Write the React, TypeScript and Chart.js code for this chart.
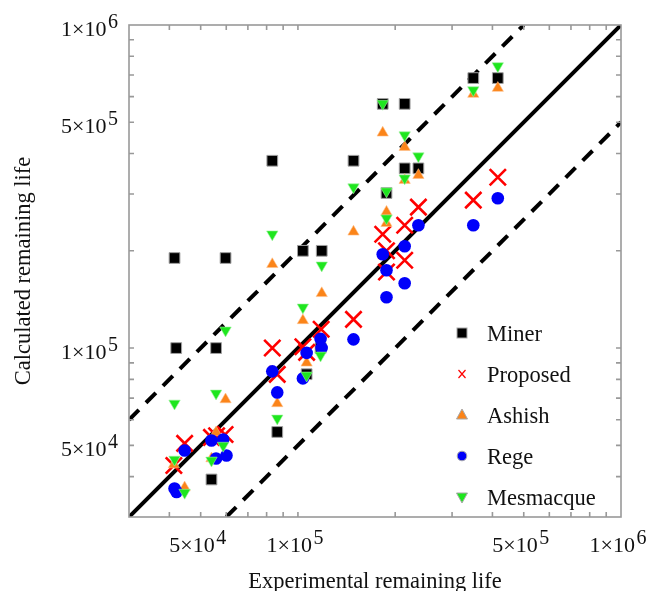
import React, { useEffect, useRef } from 'react';
import { Chart, registerables } from 'chart.js';

Chart.register(...registerables);

const axisMin = 30000;
const axisMax = 1000000;

const seriesNames = ['Miner', 'Proposed', 'Ashish', 'Rege', 'Mesmacque'];
const xTitle = 'Experimental remaining life';
const yTitle = 'Calculated remaining life';

const minerX = [41500, 42000, 54000, 55800, 59700, 83300, 86300, 103600, 118500, 106400, 117500, 148600, 183000, 214000, 188000, 214000, 236000, 349000, 415600];
const minerY = [190000, 100000, 39200, 100000, 190000, 380000, 55000, 200000, 200000, 83000, 100000, 380000, 570000, 570000, 302000, 360000, 360000, 685000, 685000];

const proposedX = [41300, 44600, 54000, 59500, 56000, 83300, 86300, 103600, 106400, 118000, 148600, 183000, 188000, 188000, 214000, 214000, 236000, 349000, 415600];
const proposedY = [43300, 50700, 52900, 54000, 53500, 100000, 82900, 101000, 97000, 114300, 122700, 225000, 200000, 172000, 240000, 187000, 273000, 287000, 338000];

const ashishX = [41300, 44600, 54000, 55800, 59700, 83300, 86300, 103600, 106400, 118500, 148600, 183000, 214000, 236000, 214000, 188000, 188000, 349000, 415600];
const ashishY = [43600, 37000, 45500, 54800, 69300, 181700, 67400, 121800, 90000, 147700, 229000, 463800, 418700, 342900, 330900, 263900, 243400, 611100, 637800];

const regeX = [41500, 42100, 44600, 54000, 58700, 55800, 60100, 83300, 86300, 103600, 106400, 117500, 118400, 148600, 183000, 188000, 188000, 214000, 214000, 236000, 349000, 415600];
const regeY = [36750, 35840, 48190, 51760, 52130, 45500, 46500, 84700, 72900, 80570, 96630, 106800, 100000, 106400, 195200, 174100, 143600, 206700, 158700, 240000, 240000, 290900];

const mesmacqueX = [41500, 41500, 44600, 54000, 55800, 59700, 58700, 83300, 86300, 103600, 106400, 118500, 117500, 148600, 183000, 214000, 236000, 188000, 214000, 188000, 349000, 415600];
const mesmacqueY = [67400, 45200, 35700, 44900, 72400, 113500, 49900, 225100, 60600, 133700, 82300, 180400, 94900, 314800, 571000, 456200, 392700, 305900, 335600, 252300, 628800, 746400];

const refSolidX = [30000, 1000000];
const refSolidY = [30000, 1000000];
const refUpperX = [30000, 500000];
const refUpperY = [60000, 1000000];
const refLowerX = [60000, 1000000];
const refLowerY = [30000, 500000];

const tickMarks = [40000, 50000, 60000, 70000, 80000, 90000, 100000, 200000, 300000, 400000, 500000, 600000, 700000, 800000, 900000];
const labelValues = [50000, 100000, 500000, 1000000];
const labelMantissa = ['5', '1', '5', '1'];
const labelExponent = ['4', '5', '5', '6'];

const ORANGE = '#fb8419';
const GREEN = '#1ee61e';
const BLUE = '#0000fa';
const RED = '#ff0000';
const FONT = '"Liberation Serif", "Times New Roman", serif';

const zip = (xs: number[], ys: number[]) => xs.map((x, i) => ({ x, y: ys[i] }));

function drawSci(ctx: CanvasRenderingContext2D, mant: string, exp: string, x: number, baseY: number, align: 'right' | 'center') {
  const baseFont = `22px ${FONT}`;
  const supFont = `20px ${FONT}`;
  const baseText = `${mant}\u00d710`;
  ctx.font = baseFont;
  const w0 = ctx.measureText(baseText).width;
  ctx.font = supFont;
  const w1 = ctx.measureText(exp).width;
  const gap = 1.5;
  const total = w0 + w1 + gap;
  const start = align === 'right' ? x - total : x - total / 2 - 3;
  ctx.textAlign = 'left';
  ctx.textBaseline = 'alphabetic';
  ctx.font = baseFont;
  ctx.fillText(baseText, start, baseY);
  ctx.font = supFont;
  ctx.fillText(exp, start + w0 + gap, baseY - 8);
}

function legendMarker(ctx: CanvasRenderingContext2D, idx: number, x: number, y: number) {
  ctx.save();
  ctx.lineWidth = 1;
  ctx.strokeStyle = '#a8a8a8';
  if (idx === 0) {
    ctx.fillStyle = '#000';
    ctx.fillRect(x - 5, y - 5, 10, 10);
    ctx.strokeRect(x - 5, y - 5, 10, 10);
  } else if (idx === 1) {
    ctx.strokeStyle = RED;
    ctx.lineWidth = 1.2;
    ctx.beginPath();
    ctx.moveTo(x - 3.5, y - 4);
    ctx.lineTo(x + 3.5, y + 4);
    ctx.moveTo(x + 3.5, y - 4);
    ctx.lineTo(x - 3.5, y + 4);
    ctx.stroke();
  } else if (idx === 2 || idx === 4) {
    ctx.fillStyle = idx === 2 ? ORANGE : GREEN;
    const d = idx === 2 ? 1 : -1;
    ctx.beginPath();
    ctx.moveTo(x, y - 6 * d);
    ctx.lineTo(x + 5.5, y + 4 * d);
    ctx.lineTo(x - 5.5, y + 4 * d);
    ctx.closePath();
    ctx.fill();
    ctx.stroke();
  } else {
    ctx.fillStyle = BLUE;
    ctx.beginPath();
    ctx.arc(x, y, 4.8, 0, Math.PI * 2);
    ctx.fill();
    ctx.stroke();
  }
  ctx.restore();
}

const decorPlugin = {
  id: 'decor',
  afterDatasetsDraw(chart: any) {
    const { ctx, chartArea: a, scales } = chart;
    const xs = scales.x;
    const ys = scales.y;
    ctx.save();
    ctx.strokeStyle = '#999999';
    ctx.lineWidth = 1.6;
    ctx.strokeRect(a.left, a.top, a.right - a.left, a.bottom - a.top);
    ctx.beginPath();
    for (const v of tickMarks) {
      const px = xs.getPixelForValue(v);
      ctx.moveTo(px, a.bottom);
      ctx.lineTo(px, a.bottom - 5);
      ctx.moveTo(px, a.top);
      ctx.lineTo(px, a.top + 5);
      const py = ys.getPixelForValue(v);
      ctx.moveTo(a.left, py);
      ctx.lineTo(a.left + 5, py);
      ctx.moveTo(a.right, py);
      ctx.lineTo(a.right - 5, py);
    }
    ctx.stroke();

    ctx.fillStyle = '#111111';
    labelValues.forEach((v, i) => {
      const py = ys.getPixelForValue(v);
      drawSci(ctx, labelMantissa[i], labelExponent[i], a.left - 11, py + 11, 'right');
      const px = xs.getPixelForValue(v);
      drawSci(ctx, labelMantissa[i], labelExponent[i], px, a.bottom + 35, 'center');
    });

    ctx.font = `22.5px ${FONT}`;
    ctx.textAlign = 'center';
    ctx.textBaseline = 'alphabetic';
    ctx.fillText(xTitle, (a.left + a.right) / 2, a.bottom + 71);
    ctx.save();
    ctx.translate(22, (a.top + a.bottom) / 2);
    ctx.rotate(-Math.PI / 2);
    ctx.fillText(yTitle, 0, 0);
    ctx.restore();

    const lx = a.left + 333;
    const ty = a.top + 308;
    seriesNames.forEach((name, i) => {
      const y = ty + i * 41;
      legendMarker(ctx, i, lx, y);
      ctx.fillStyle = '#111111';
      ctx.font = `22.5px ${FONT}`;
      ctx.textAlign = 'left';
      ctx.fillText(name, lx + 25, y + 8);
    });
    ctx.restore();
  },
};

export default function App() {
  const ref = useRef<HTMLCanvasElement | null>(null);
  useEffect(() => {
    if (!ref.current) return;
    const lineBase = {
      showLine: true,
      pointRadius: 0,
      borderColor: '#000',
      borderWidth: 4,
      fill: false,
      clip: 0,
      order: 10,
    };
    const chart = new Chart(ref.current, {
      type: 'scatter',
      data: {
        datasets: [
          { ...lineBase, label: 'y=x', data: zip(refSolidX, refSolidY) },
          { ...lineBase, label: 'upper', data: zip(refUpperX, refUpperY), borderDash: [14, 10] },
          { ...lineBase, label: 'lower', data: zip(refLowerX, refLowerY), borderDash: [14, 10] },
          {
            label: seriesNames[0], data: zip(minerX, minerY), order: 5,
            pointStyle: 'rect', pointRadius: 7.6, pointBackgroundColor: '#000', pointBorderColor: '#a0a0a0', pointBorderWidth: 1,
          },
          {
            label: seriesNames[1], data: zip(proposedX, proposedY), order: 4,
            pointStyle: 'crossRot', pointRadius: 11.5, pointBackgroundColor: RED, pointBorderColor: RED, pointBorderWidth: 2.6,
          },
          {
            label: seriesNames[2], data: zip(ashishX, ashishY), order: 3,
            pointStyle: 'triangle', pointRadius: 6.5, pointBackgroundColor: ORANGE, pointBorderColor: '#ffc08a', pointBorderWidth: 0.6,
          },
          {
            label: seriesNames[3], data: zip(regeX, regeY), order: 2,
            pointStyle: 'circle', pointRadius: 6.3, pointBackgroundColor: BLUE, pointBorderColor: BLUE, pointBorderWidth: 0,
          },
          {
            label: seriesNames[4], data: zip(mesmacqueX, mesmacqueY), order: 1,
            pointStyle: 'triangle', pointRotation: 180, pointRadius: 6.6, pointBackgroundColor: GREEN, pointBorderColor: '#9ff29f', pointBorderWidth: 0.6,
          },
        ],
      },
      options: {
        animation: false,
        responsive: false,
        devicePixelRatio: 1,
        layout: { padding: { left: 121, top: 17, right: 27, bottom: 74 } },
        scales: {
          x: { type: 'logarithmic', min: axisMin, max: axisMax, display: false },
          y: { type: 'logarithmic', min: axisMin, max: axisMax, display: false },
        },
        plugins: { legend: { display: false }, tooltip: { enabled: false } },
        events: [],
      },
      plugins: [decorPlugin],
    } as any);
    return () => chart.destroy();
  }, []);
  return (
    <div style={{ width: 640, height: 583 }}>
      <canvas ref={ref} width={640} height={583} style={{ display: 'block' }} />
    </div>
  );
}
